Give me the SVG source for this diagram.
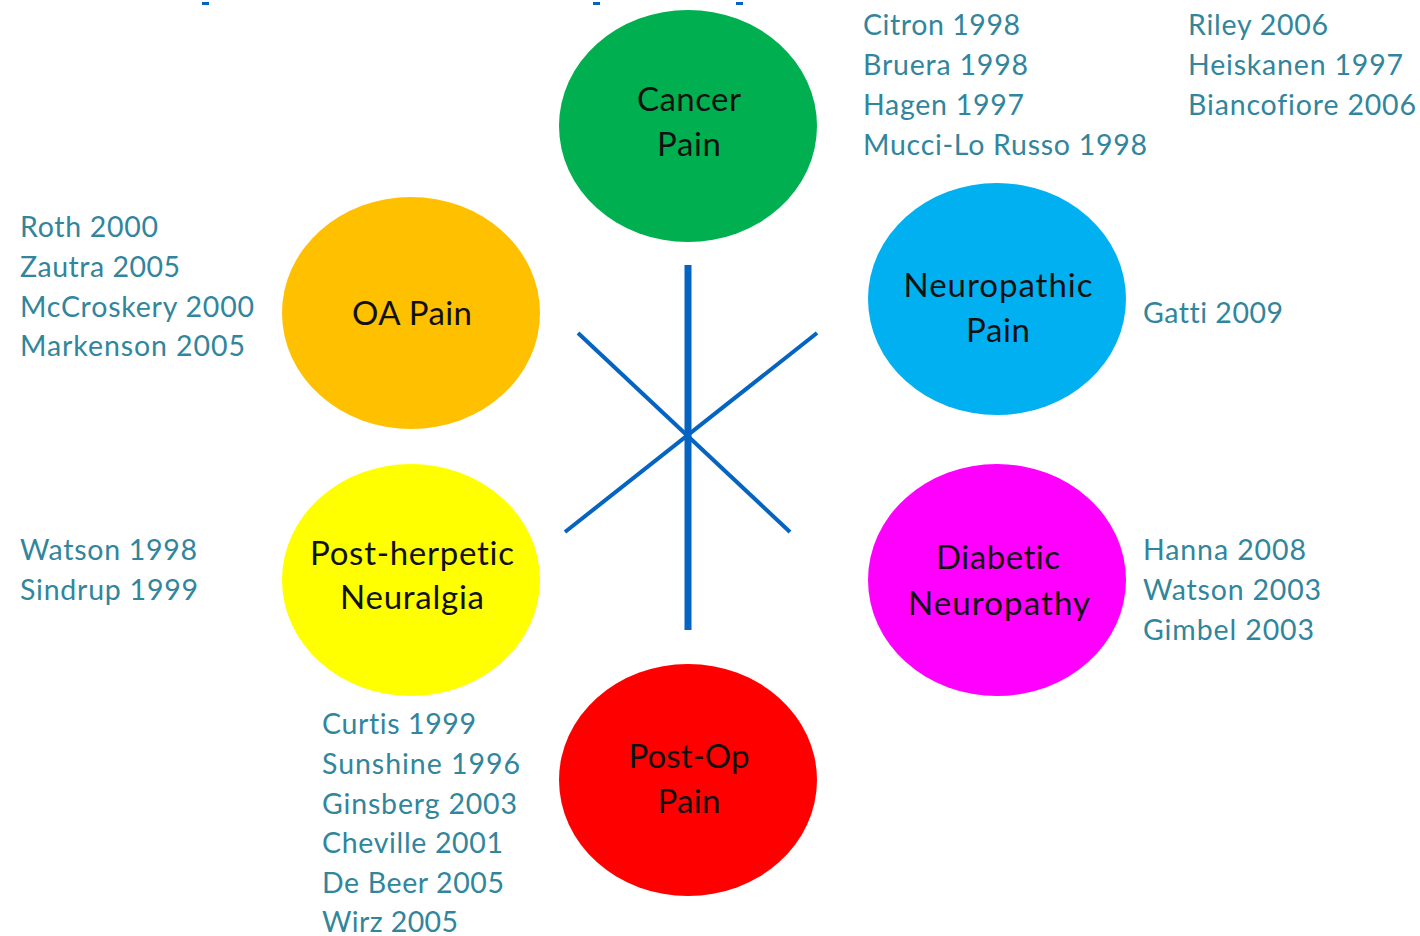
<svg xmlns="http://www.w3.org/2000/svg" width="1420" height="936" viewBox="0 0 1420 936">
<style>
.ref{font-family:Lato,"Open Sans","Liberation Sans",sans-serif;font-size:28.5px;fill:#31859C;font-variant-ligatures:none}
.lbl{font-family:Lato,"Open Sans","Liberation Sans",sans-serif;font-size:33px;fill:#111;text-anchor:middle;font-variant-ligatures:none}
.ln{stroke:#0563C1;stroke-linecap:butt}
</style>
<rect width="1420" height="936" fill="#fff"/>
<g id="marks" fill="#0563C1">
<rect x="202" y="2" width="7" height="3"/>
<rect x="593" y="2" width="7" height="3"/>
<rect x="736" y="2" width="7" height="3"/>
</g>
<g id="connectors">
<line class="ln" x1="688" y1="265" x2="688" y2="630" stroke-width="7"/>
<line class="ln" x1="578" y1="333" x2="790" y2="532" stroke-width="4"/>
<line class="ln" x1="817" y1="333" x2="565" y2="532" stroke-width="4"/>
</g>
<g id="cancer">
<ellipse cx="688" cy="126" rx="129" ry="116" fill="#00B050"/>
<text class="lbl" x="689" y="111" textLength="104">Cancer</text>
<text class="lbl" x="689" y="156" textLength="64">Pain</text>
</g>
<g id="oa">
<ellipse cx="411" cy="313" rx="129" ry="116" fill="#FFC000"/>
<text class="lbl" x="412" y="325" textLength="120">OA Pain</text>
</g>
<g id="neuropathic">
<ellipse cx="997" cy="299" rx="129" ry="116" fill="#00B0F0"/>
<text class="lbl" x="998" y="297" textLength="189">Neuropathic</text>
<text class="lbl" x="998" y="342" textLength="64">Pain</text>
</g>
<g id="postherpetic">
<ellipse cx="411" cy="580" rx="129" ry="116" fill="#FFFF00"/>
<text class="lbl" x="412" y="565" textLength="204">Post-herpetic</text>
<text class="lbl" x="412" y="609" textLength="144">Neuralgia</text>
</g>
<g id="diabetic">
<ellipse cx="997" cy="580" rx="129" ry="116" fill="#FF00FF"/>
<text class="lbl" x="998" y="569" textLength="124">Diabetic</text>
<text class="lbl" x="999" y="615" textLength="182">Neuropathy</text>
</g>
<g id="postop">
<ellipse cx="688" cy="780" rx="129" ry="116" fill="#FF0000"/>
<text class="lbl" x="689" y="768" textLength="121">Post-Op</text>
<text class="lbl" x="689" y="813" textLength="63">Pain</text>
</g>
<g id="refs-cancer">
<text class="ref" x="863" y="35" textLength="157">Citron 1998</text>
<text class="ref" x="863" y="75" textLength="165">Bruera 1998</text>
<text class="ref" x="863" y="115" textLength="161">Hagen 1997</text>
<text class="ref" x="863" y="155" textLength="284">Mucci-Lo Russo 1998</text>
<text class="ref" x="1188" y="35" textLength="140">Riley 2006</text>
<text class="ref" x="1188" y="75" textLength="215">Heiskanen 1997</text>
<text class="ref" x="1188" y="115" textLength="228">Biancofiore 2006</text>
</g>
<g id="refs-oa">
<text class="ref" x="20" y="237" textLength="138">Roth 2000</text>
<text class="ref" x="20" y="277" textLength="160">Zautra 2005</text>
<text class="ref" x="20" y="317" textLength="234">McCroskery 2000</text>
<text class="ref" x="20" y="356" textLength="225">Markenson 2005</text>
</g>
<g id="refs-neuropathic">
<text class="ref" x="1143" y="323" textLength="140">Gatti 2009</text>
</g>
<g id="refs-postherpetic">
<text class="ref" x="20" y="560" textLength="177">Watson 1998</text>
<text class="ref" x="20" y="600" textLength="178">Sindrup 1999</text>
</g>
<g id="refs-diabetic">
<text class="ref" x="1143" y="560" textLength="163">Hanna 2008</text>
<text class="ref" x="1143" y="600" textLength="178">Watson 2003</text>
<text class="ref" x="1143" y="640" textLength="171">Gimbel 2003</text>
</g>
<g id="refs-postop">
<text class="ref" x="322" y="734" textLength="154">Curtis 1999</text>
<text class="ref" x="322" y="774" textLength="198">Sunshine 1996</text>
<text class="ref" x="322" y="814" textLength="195">Ginsberg 2003</text>
<text class="ref" x="322" y="853" textLength="181">Cheville 2001</text>
<text class="ref" x="322" y="893" textLength="182">De Beer 2005</text>
<text class="ref" x="322" y="932" textLength="136">Wirz 2005</text>
</g>
</svg>
